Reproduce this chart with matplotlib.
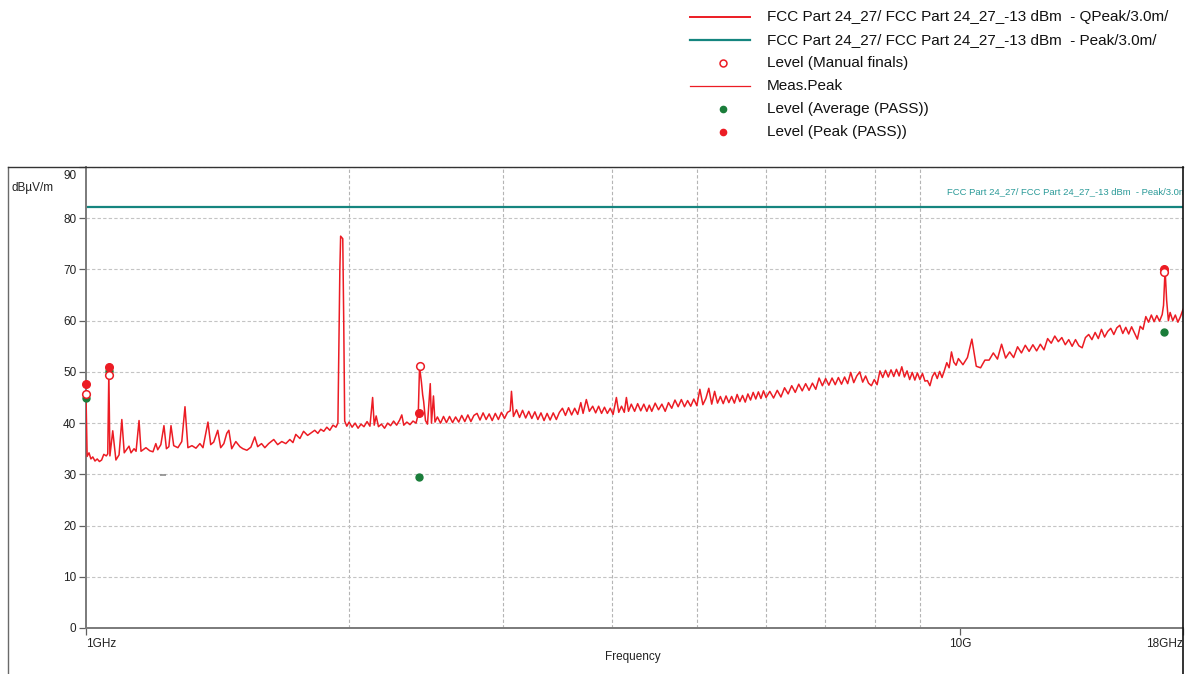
import matplotlib
matplotlib.use("Agg")
import matplotlib.pyplot as plt
from matplotlib.lines import Line2D
from matplotlib.transforms import ScaledTranslation

plt.rcParams["font.family"] = ["Liberation Sans", "DejaVu Sans"]

# ── data (frequency in GHz, level in dBuV/m) ──────────────────────────────
LIMIT_PEAK = 82.2
LIMIT_TEXT = "FCC Part 24_27/ FCC Part 24_27_-13 dBm  - Peak/3.0m/"

# Meas.Peak trace
trace_1_2 = [
    (1.000, 45.5), (1.003, 33.5), (1.008, 34.2), (1.013, 33.0), (1.018, 33.4),
    (1.024, 32.6), (1.030, 33.0), (1.036, 32.5), (1.042, 32.8), (1.048, 33.9),
    (1.055, 33.6), (1.059, 34.0), (1.062, 50.0), (1.065, 33.6), (1.073, 38.5),
    (1.082, 32.8), (1.091, 33.8), (1.099, 40.7), (1.106, 34.2), (1.120, 35.5),
    (1.126, 34.2), (1.135, 35.0), (1.141, 34.5), (1.150, 40.5), (1.156, 34.5),
    (1.171, 35.2), (1.183, 34.6), (1.193, 34.4), (1.202, 36.0), (1.208, 34.8),
    (1.218, 35.8), (1.228, 39.5), (1.236, 35.0), (1.244, 35.4), (1.251, 39.5),
    (1.260, 35.6), (1.274, 35.2), (1.287, 36.4), (1.298, 43.2), (1.308, 35.2),
    (1.322, 35.6), (1.336, 35.1), (1.350, 36.0), (1.361, 35.2), (1.379, 40.2),
    (1.389, 35.8), (1.400, 36.3), (1.415, 38.6), (1.426, 35.2), (1.438, 36.0),
    (1.449, 38.0), (1.457, 38.6), (1.468, 35.0), (1.484, 36.4), (1.500, 35.4),
    (1.512, 35.0), (1.528, 34.7), (1.544, 35.3), (1.560, 37.3), (1.572, 35.4),
    (1.588, 36.0), (1.602, 35.2), (1.618, 36.0), (1.640, 36.8), (1.657, 35.8),
    (1.675, 36.4), (1.693, 36.0), (1.711, 36.8), (1.725, 36.2), (1.738, 37.8),
    (1.757, 37.0), (1.774, 38.4), (1.793, 37.6), (1.813, 38.2), (1.827, 38.6),
    (1.842, 38.0), (1.856, 38.8), (1.871, 38.4), (1.886, 39.2), (1.901, 38.6),
    (1.917, 39.6), (1.932, 39.2), (1.942, 40.0), (1.952, 70.0), (1.956, 76.5),
    (1.967, 76.0), (1.972, 60.0), (1.977, 40.4),
]

trace_2_4 = [
    (1.988, 39.4), (2.000, 40.2), (2.016, 39.2), (2.032, 40.0), (2.048, 39.0),
    (2.064, 39.8), (2.080, 39.3), (2.097, 40.3), (2.113, 39.4), (2.128, 45.0),
    (2.137, 39.6), (2.148, 41.4), (2.161, 39.3), (2.178, 39.8), (2.196, 39.0),
    (2.214, 40.0), (2.231, 39.5), (2.249, 40.4), (2.267, 39.6), (2.285, 40.6),
    (2.298, 41.6), (2.310, 39.6), (2.329, 40.2), (2.348, 39.7), (2.367, 40.4),
    (2.386, 40.0), (2.400, 41.8), (2.408, 51.0), (2.420, 48.0), (2.428, 45.5),
    (2.434, 44.3), (2.446, 40.5), (2.459, 39.8), (2.477, 47.7), (2.485, 40.0),
    (2.498, 45.3), (2.508, 40.2), (2.524, 41.2), (2.545, 40.0), (2.565, 41.3),
    (2.585, 40.1), (2.606, 41.3), (2.627, 40.1), (2.648, 41.2), (2.670, 40.2),
    (2.691, 41.5), (2.713, 40.3), (2.735, 41.6), (2.757, 40.3), (2.779, 41.5),
    (2.802, 41.9), (2.824, 40.6), (2.847, 42.0), (2.870, 40.7), (2.893, 41.8),
    (2.916, 40.5), (2.940, 41.9), (2.964, 40.7), (2.988, 42.1), (3.012, 40.9),
    (3.036, 42.1), (3.058, 42.4), (3.068, 46.2), (3.084, 41.3), (3.109, 42.6),
    (3.134, 41.1), (3.159, 42.5), (3.185, 41.0), (3.211, 42.3), (3.237, 40.9),
    (3.263, 42.2), (3.289, 40.7), (3.316, 42.0), (3.343, 40.5), (3.370, 41.9),
    (3.397, 40.6), (3.425, 42.0), (3.453, 40.7), (3.481, 42.1), (3.509, 42.9),
    (3.537, 41.5), (3.566, 43.0), (3.595, 41.6), (3.624, 42.9), (3.653, 41.7),
    (3.683, 44.0), (3.705, 41.9), (3.737, 44.6), (3.767, 42.3), (3.800, 43.3),
    (3.830, 42.0), (3.860, 43.3), (3.890, 41.9), (3.920, 43.1), (3.950, 41.9),
    (3.980, 42.9), (4.010, 41.7), (4.045, 45.0), (4.070, 42.1), (4.100, 43.3),
    (4.130, 42.1), (4.153, 45.0), (4.176, 42.3), (4.207, 43.7), (4.244, 42.3),
    (4.278, 43.8), (4.313, 42.4), (4.348, 43.7), (4.383, 42.3), (4.411, 43.5),
]

trace_4_6 = [
    (4.44, 42.3), (4.48, 43.9), (4.52, 42.6), (4.56, 43.7), (4.60, 42.3),
    (4.64, 44.0), (4.68, 42.9), (4.72, 44.5), (4.76, 43.2), (4.80, 44.6),
    (4.84, 43.2), (4.88, 44.4), (4.92, 43.3), (4.96, 44.7), (5.00, 43.4),
    (5.04, 46.6), (5.08, 43.6), (5.12, 44.8), (5.16, 46.8), (5.20, 43.7),
    (5.24, 46.2), (5.28, 43.9), (5.32, 45.2), (5.36, 43.8), (5.40, 45.3),
    (5.44, 44.0), (5.48, 45.2), (5.52, 43.9), (5.56, 45.6), (5.60, 44.2),
    (5.64, 45.4), (5.68, 44.1), (5.72, 45.7), (5.76, 44.5), (5.80, 46.0),
    (5.84, 44.7), (5.88, 46.1), (5.92, 44.8), (5.96, 46.3), (6.00, 45.0),
]

trace_6_10 = [
    (6.06, 46.2), (6.12, 44.9), (6.18, 46.4), (6.24, 45.1), (6.30, 46.9),
    (6.36, 45.7), (6.42, 47.3), (6.48, 46.0), (6.54, 47.6), (6.60, 46.3),
    (6.66, 47.7), (6.72, 46.4), (6.78, 47.8), (6.84, 46.6), (6.90, 48.8),
    (6.96, 47.3), (7.02, 48.7), (7.08, 47.4), (7.14, 48.8), (7.20, 47.5),
    (7.26, 48.9), (7.32, 47.6), (7.38, 49.0), (7.44, 47.7), (7.50, 49.9),
    (7.56, 47.9), (7.62, 49.2), (7.68, 50.0), (7.74, 48.0), (7.80, 49.2),
    (7.86, 47.8), (7.92, 47.3), (7.98, 48.5), (8.04, 47.5), (8.10, 50.2),
    (8.16, 48.9), (8.22, 50.3), (8.28, 49.0), (8.34, 50.4), (8.40, 49.1),
    (8.46, 50.5), (8.52, 49.2), (8.58, 51.0), (8.64, 49.0), (8.70, 50.2),
    (8.76, 48.5), (8.82, 49.9), (8.88, 48.4), (8.94, 49.8), (9.00, 48.5),
    (9.06, 49.7), (9.12, 48.2), (9.18, 48.3), (9.24, 47.3), (9.30, 49.1),
    (9.36, 49.9), (9.42, 48.7), (9.48, 50.1), (9.54, 48.9), (9.60, 50.3),
    (9.66, 51.8), (9.72, 50.8), (9.78, 53.9), (9.84, 51.9), (9.90, 51.3),
    (9.96, 52.6),
]

trace_10_18 = [
    (10.08, 51.4), (10.20, 52.8), (10.32, 56.4), (10.44, 51.1), (10.56, 50.8),
    (10.68, 52.3), (10.80, 52.3), (10.92, 53.7), (11.04, 52.5), (11.16, 55.4),
    (11.28, 52.7), (11.40, 53.9), (11.52, 52.8), (11.64, 54.9), (11.76, 53.7),
    (11.88, 55.2), (12.00, 54.0), (12.12, 55.3), (12.24, 54.1), (12.36, 55.4),
    (12.48, 54.3), (12.60, 56.5), (12.72, 55.6), (12.84, 57.0), (12.96, 55.9),
    (13.08, 56.7), (13.20, 55.3), (13.32, 56.3), (13.44, 55.0), (13.56, 56.3),
    (13.68, 55.1), (13.80, 54.7), (13.92, 56.7), (14.04, 57.3), (14.16, 56.3),
    (14.28, 57.7), (14.40, 56.5), (14.52, 58.3), (14.64, 56.8), (14.76, 57.9),
    (14.88, 58.5), (15.00, 57.3), (15.12, 58.6), (15.24, 59.1), (15.36, 57.5),
    (15.48, 58.7), (15.60, 57.4), (15.72, 58.8), (15.84, 57.6), (15.96, 56.4),
    (16.08, 58.9), (16.20, 58.3), (16.32, 60.8), (16.44, 59.7), (16.56, 61.1),
    (16.68, 59.8), (16.80, 61.0), (16.92, 59.9), (17.04, 61.2), (17.10, 63.0),
    (17.17, 70.0), (17.24, 64.0), (17.32, 60.0), (17.40, 61.6), (17.52, 60.0),
    (17.64, 61.1), (17.76, 59.7), (17.88, 60.8), (18.00, 62.2),
]

# final measurement markers
manual_f = [1.000, 1.062, 2.408, 17.14]
manual_l = [45.6, 49.3, 51.1, 69.5]
avg_f = [1.000, 1.062, 2.402, 17.14]
avg_l = [45.0, 50.1, 29.4, 57.7]
peak_f = [1.000, 1.062, 2.402, 17.14]
peak_l = [47.7, 50.9, 41.9, 70.1]
stray_f = [1.225]
stray_l = [29.9]

RED = "#ec1c24"
TEAL = "#15857f"
GREEN = "#1a7d3a"
GRAY = "#8c8c8c"

trace = trace_1_2 + trace_2_4 + trace_4_6 + trace_6_10 + trace_10_18
trace_f = [p[0] for p in trace]
trace_l = [p[1] for p in trace]

# ── figure ────────────────────────────────────────────────────────────────
W, H = 1190, 674
fig = plt.figure(figsize=(W / 100, H / 100), dpi=100)
ax = fig.add_axes([86 / W, 1 - 628 / H, (1183 - 86) / W, (628 - 167) / H])

ax.plot(trace_f, trace_l, color=RED, lw=1.1, zorder=3)
ax.axhline(LIMIT_PEAK, color=TEAL, lw=1.6, zorder=2)
ax.text(0.785, 85.2, LIMIT_TEXT, transform=ax.get_yaxis_transform(),
        color="#2a9a98", fontsize=6.8, va="center", ha="left", clip_on=True)

ax.plot(avg_f, avg_l, "o", color=GREEN, ms=5, zorder=4, clip_on=False)
ax.plot(peak_f, peak_l, "o", color=RED, ms=5.5, zorder=5, clip_on=False)
ax.plot(manual_f, manual_l, "o", mfc="white", mec=RED, mew=1.1, ms=5.5,
        zorder=6, clip_on=False)
ax.plot(stray_f, stray_l, "_", color=GRAY, ms=4, mew=1.2, zorder=3)

ax.set_xscale("log")
ax.set_xlim(1, 18)
ax.set_ylim(0, 90)

ax.set_xticks([1, 10, 18])
ax.set_xticklabels(["1GHz", "10G", "18GHz"])
ax.set_xticks([2, 3, 4, 5, 6, 7, 8, 9], minor=True)
ax.xaxis.set_minor_formatter(plt.NullFormatter())
ax.set_yticks(range(0, 91, 10))

ax.tick_params(axis="both", which="major", length=5, width=0.9,
               color="#606060", labelsize=8.5, labelcolor="#222222", pad=2)
ax.tick_params(axis="x", which="minor", length=0)
xl = ax.get_xticklabels()
xl[0].set_ha("left")
xl[2].set_ha("right")
# the top label sits a little under its tick, as in the source
top_lab = ax.get_yticklabels()[-1]
top_lab.set_va("top")
top_lab.set_transform(top_lab.get_transform()
                      + ScaledTranslation(0, -3 / 100, fig.dpi_scale_trans))

ax.grid(True, axis="y", which="major", color="#c4c4c4", lw=0.8,
        ls=(0, (3, 2)))
ax.grid(True, axis="x", which="minor", color="#b4b4b4", lw=0.8,
        ls=(0, (3, 2)))

for side in ("top", "right"):
    ax.spines[side].set_visible(False)
for side in ("left", "bottom"):
    ax.spines[side].set_color("#7a7a7a")
    ax.spines[side].set_linewidth(1.4)

# outer frame around the plot block
fig.add_artist(Line2D([8 / W, 8 / W], [0, 1 - 167 / H], color="#6a6a6a",
                      lw=1.0))
fig.add_artist(Line2D([8 / W, 1183 / W], [1 - 167 / H, 1 - 167 / H],
                      color="#333333", lw=1.0))
fig.add_artist(Line2D([1183 / W, 1183 / W], [0, 1 - 167 / H],
                      color="#111111", lw=1.2))

fig.text(12 / W, 1 - 188 / H, "dBµV/m", fontsize=8.5, color="#222222",
         va="center", ha="left")
fig.text(633 / W, 1 - 657 / H, "Frequency", fontsize=8.5, color="#222222",
         va="center", ha="center")

# ── legend above the plot, one row every 23 px ────────────────────────────
legend_labels = [
    "FCC Part 24_27/ FCC Part 24_27_-13 dBm  - QPeak/3.0m/",
    "FCC Part 24_27/ FCC Part 24_27_-13 dBm  - Peak/3.0m/",
    "Level (Manual finals)",
    "Meas.Peak",
    "Level (Average (PASS))",
    "Level (Peak (PASS))",
]
legend_styles = [
    dict(color=RED, lw=1.4),
    dict(color=TEAL, lw=1.6),
    dict(marker="o", mfc="white", mec=RED, mew=1.1, ms=5),
    dict(color=RED, lw=0.9),
    dict(marker="o", color=GREEN, ms=4.5),
    dict(marker="o", color=RED, ms=4.5),
]
for i, (lab, st) in enumerate(zip(legend_labels, legend_styles)):
    yy = 1 - (17 + 23 * i) / H
    if "marker" in st:
        fig.add_artist(Line2D([723 / W], [yy], ls="none", **st))
    else:
        fig.add_artist(Line2D([690 / W, 750 / W], [yy, yy], **st))
    fig.text(767 / W, yy, lab, fontsize=11.0, color="#111111",
             va="center", ha="left")

fig.savefig("out.png", dpi=100)
